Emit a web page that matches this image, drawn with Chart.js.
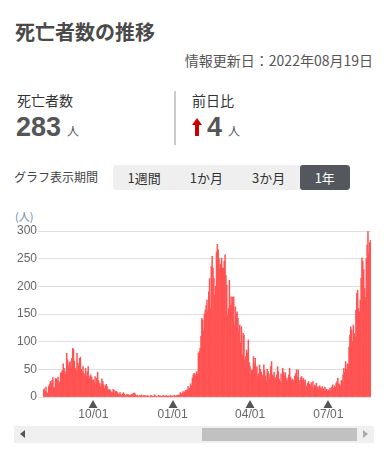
<!DOCTYPE html>
<html lang="ja">
<head>
<meta charset="utf-8">
<script src="https://cdn.jsdelivr.net/npm/chart.js@4.4.0/dist/chart.umd.min.js"></script>
<style>
  body { margin:0; width:388px; height:454px; background:#fff; font-family:"Noto Sans CJK JP", sans-serif; color:#333; position:relative; overflow:hidden; }
  .abs { position:absolute; white-space:nowrap; }
  #title { left:15px; top:18px; font-size:20px; font-weight:bold; color:#4a4a4a; line-height:28px; }
  #updated { right:15px; top:50px; font-size:14px; color:#555; line-height:20px; }
  .lbl { font-size:14px; color:#333; line-height:18px; }
  .num { font-size:27px; font-weight:bold; color:#555; line-height:30px; font-family:"Liberation Sans", Arial, sans-serif; }
  .unit { font-size:12px; color:#555; line-height:14px; }
  #divider { left:174px; top:91px; width:2px; height:54px; background:#ccc; }
  #arrow { left:192px; top:118px; width:10px; height:18px; }
  #period { left:14px; top:168px; font-size:12px; color:#444; line-height:18px; }
  #buttons { left:113px; top:165px; height:25px; display:flex; background:#efefef; border-radius:3px; overflow:hidden; }
  #buttons div { padding:0 14.5px; font-size:13px; line-height:25px; color:#333; }
  #buttons div.on { background:#54585e; color:#fff; border-radius:3px; padding:0 15px; }
  #unitY { left:15px; top:209px; font-size:11px; color:#6a88ab; line-height:14px; }
  #wrap { left:0; top:222px; width:388px; height:200px; }
  #scroll { left:14px; top:426px; width:360px; height:17px; background:#f0f0f0; }
  #thumb { left:188px; top:2px; width:155px; height:13px; background:#c1c1c1; position:absolute; }
  .tri { position:absolute; top:4px; width:0; height:0; border-top:4px solid transparent; border-bottom:4px solid transparent; }
</style>
</head>
<body>
<div class="abs" id="title">死亡者数の推移</div>
<div class="abs" id="updated">情報更新日：2022年08月19日</div>

<div class="abs lbl" style="left:17px; top:91px;">死亡者数</div>
<div class="abs num" style="left:16px; top:112px;">283</div>
<div class="abs unit" style="left:67px; top:124px;">人</div>

<div class="abs" id="divider"></div>

<div class="abs lbl" style="left:192px; top:91px;">前日比</div>
<svg class="abs" id="arrow" viewBox="0 0 10 18"><path d="M5 0 L10 7 L7 7 L7 18 L3 18 L3 7 L0 7 Z" fill="#cc0000"/></svg>
<div class="abs num" style="left:207px; top:112px;">4</div>
<div class="abs unit" style="left:228px; top:124px;">人</div>

<div class="abs" id="period">グラフ表示期間</div>
<div class="abs" id="buttons">
  <div>1週間</div><div>1か月</div><div>3か月</div><div class="on">1年</div>
</div>

<div class="abs" id="unitY">(人)</div>
<div class="abs" id="wrap"><canvas id="grafica"></canvas></div>

<div class="abs" id="scroll">
  <div class="tri" style="left:6px; border-right:5px solid #555;"></div>
  <div id="thumb"></div>
  <div class="tri" style="right:6px; border-left:5px solid #aaa;"></div>
</div>

<script>
// ===== Datos =====
const fechaInicio = "2021-08-04";
const tickLabels = ["10/01", "01/01", "04/01", "07/01"];
const yTicks = [0, 50, 100, 150, 200, 250, 300];

const d2021_08 = [12, 15, 10, 18, 8, 6, 19, 22, 28, 25, 30, 35, 18, 16, 34, 33, 30, 36, 28, 25, 43, 45, 48, 60, 52, 46, 42, 79];
const d2021_09 = [67, 55, 62, 64, 50, 70, 88, 86, 65, 52, 48, 79, 61, 56, 70, 72, 50, 45, 55, 43, 40, 52, 38, 46, 55, 33, 37, 40, 36, 30];
const d2021_10 = [31, 26, 37, 22, 34, 45, 30, 25, 18, 24, 33, 28, 22, 15, 20, 23, 19, 12, 14, 13, 11, 9, 8, 14, 12, 7, 10, 10, 8, 6, 5];
const d2021_11 = [8, 4, 3, 6, 8, 5, 3, 2, 5, 4, 4, 3, 2, 5, 3, 6, 7, 7, 4, 2, 3, 2, 1, 3, 2, 4, 1, 2, 3, 2];
const d2021_12 = [2, 1, 3, 1, 0, 2, 3, 2, 1, 1, 4, 2, 1, 0, 2, 3, 1, 2, 1, 1, 3, 2, 1, 2, 3, 1, 2, 1, 2, 3, 1];
const d2022_01 = [2, 1, 3, 2, 1, 3, 2, 4, 3, 8, 6, 5, 10, 7, 9, 12, 11, 13, 19, 14, 16, 24, 20, 34, 40, 43, 42, 38, 46, 42, 79];
const d2022_02 = [82, 88, 110, 142, 139, 120, 150, 157, 165, 175, 154, 190, 214, 160, 236, 254, 233, 215, 184, 200, 262, 276, 266, 250, 233, 240, 251, 233];
const d2022_03 = [233, 245, 257, 220, 202, 148, 160, 211, 166, 181, 169, 180, 181, 130, 163, 150, 154, 142, 120, 130, 98, 127, 76, 115, 112, 67, 73, 85, 80, 103, 62];
const d2022_04 = [55, 40, 48, 49, 73, 60, 70, 52, 55, 37, 42, 58, 50, 45, 40, 37, 58, 48, 38, 30, 50, 46, 42, 35, 55, 64, 40, 37, 45, 30];
const d2022_05 = [35, 40, 55, 46, 32, 28, 42, 25, 52, 45, 38, 44, 30, 34, 28, 40, 52, 36, 30, 33, 31, 25, 38, 42, 49, 36, 49, 30, 22, 35, 37];
const d2022_06 = [30, 34, 28, 31, 20, 18, 25, 28, 23, 20, 26, 18, 28, 15, 22, 19, 25, 16, 19, 12, 20, 17, 14, 19, 15, 12, 18, 13, 14, 10];
const d2022_07 = [13, 12, 16, 11, 18, 22, 15, 20, 18, 25, 28, 34, 24, 22, 19, 30, 28, 40, 52, 45, 64, 50, 60, 58, 90, 112, 127, 121, 100, 130, 115];
const d2022_08 = [109, 157, 187, 193, 160, 154, 175, 215, 251, 245, 230, 196, 180, 250, 275, 299, 260, 279, 283];

const muertes = [].concat(d2021_08, d2021_09, d2021_10, d2021_11, d2021_12, d2022_01,
  d2022_02, d2022_03, d2022_04, d2022_05, d2022_06, d2022_07, d2022_08);

// ===== Fechas =====
const fechas = [];
const base = new Date(fechaInicio + "T00:00:00");
for (let i = 0; i < muertes.length; i++) {
  const f = new Date(base.getTime() + i * 86400000);
  const mm = String(f.getMonth() + 1).padStart(2, "0");
  const dd = String(f.getDate()).padStart(2, "0");
  fechas.push(mm + "/" + dd);
}

// triángulos bajo el eje
const marcas = {
  id: "marcas",
  afterDraw(chart) {
    const { ctx, scales: { x }, chartArea } = chart;
    ctx.save();
    ctx.fillStyle = "#555";
    x.ticks.forEach(t => {
      const px = Math.round(x.getPixelForValue(t.value));
      const top = chartArea.bottom + 3;
      ctx.beginPath();
      ctx.moveTo(px, top);
      ctx.lineTo(px - 4.5, top + 8);
      ctx.lineTo(px + 4.5, top + 8);
      ctx.closePath();
      ctx.fill();
    });
    ctx.restore();
  }
};

new Chart(document.getElementById("grafica"), {
  type: "bar",
  data: {
    labels: fechas,
    datasets: [{
      data: muertes,
      backgroundColor: "#ff5252",
      borderWidth: 0,
      barPercentage: 1,
      categoryPercentage: 1
    }]
  },
  options: {
    responsive: true,
    maintainAspectRatio: false,
    animation: false,
    layout: { padding: { top: 9, right: 17, left: 0, bottom: 0 } },
    plugins: { legend: { display: false }, tooltip: { enabled: false } },
    scales: {
      x: {
        grid: { display: false, drawTicks: false },
        border: { display: false },
        afterBuildTicks: axis => {
          axis.ticks = axis.ticks.filter(t => tickLabels.includes(fechas[t.value]));
        },
        afterFit: axis => { axis.height = 25; },
        ticks: {
          autoSkip: false,
          maxRotation: 0,
          padding: 10,
          color: "#666",
          font: { size: 12, family: "'Liberation Sans', Arial, sans-serif" },
          callback: function (v) { return fechas[v]; }
        }
      },
      y: {
        min: 0,
        max: 300,
        afterBuildTicks: axis => { axis.ticks = yTicks.map(v => ({ value: v })); },
        afterFit: axis => { axis.width = 43; },
        border: { display: false },
        grid: { color: "#dedede", tickLength: 5, drawTicks: true },
        ticks: {
          padding: 1,
          color: "#666",
          font: { size: 12, family: "'Liberation Sans', Arial, sans-serif" }
        }
      }
    }
  },
  plugins: [marcas]
});
</script>
</body>
</html>
